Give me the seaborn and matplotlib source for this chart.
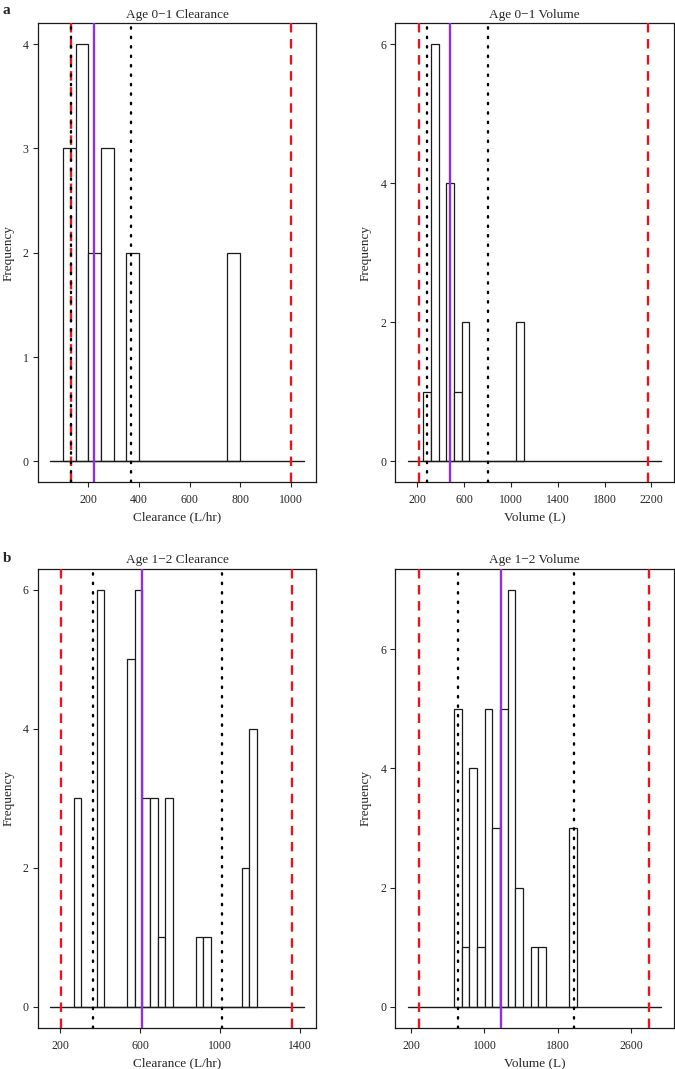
import numpy as np
import pandas as pd
import matplotlib
matplotlib.use("Agg")
import matplotlib.pyplot as plt
import seaborn as sns

# ---------------- data ----------------
# Age 0-1 Clearance
cl01_bin_start = 100
cl01_bin_width = 50
cl01_bin_left = [100, 150, 200, 250, 350, 750]
cl01_counts = [3, 4, 2, 3, 2, 2]
cl01_red = [130, 1000]
cl01_dotted = [130, 370]
cl01_purple = 223
cl01_base = [50, 1050]
cl01_xticks = [200, 400, 600, 800, 1000]
cl01_yticks = [0, 1, 2, 3, 4]

# Age 0-1 Volume
v01_bin_start = 250
v01_bin_width = 66
v01_bin_left = [250, 316, 448, 514, 580, 1042]
v01_counts = [1, 6, 4, 1, 2, 2]
v01_red = [211, 2173]
v01_dotted = [285, 801]
v01_purple = 478
v01_base = [120, 2282]
v01_xticks = [200, 600, 1000, 1400, 1800, 2200]
v01_yticks = [0, 2, 4, 6]

# Age 1-2 Clearance
cl12_bin_start = 266.67
cl12_bin_width = 38.33
cl12_bin_left = [266.67, 381.67, 535.0, 573.33, 611.67, 650.0, 688.33,
                 726.67, 880.0, 918.33, 1110.0, 1148.33]
cl12_counts = [3, 6, 5, 6, 3, 3, 1, 3, 1, 1, 2, 4]
cl12_red = [205, 1362]
cl12_dotted = [363, 1010]
cl12_purple = 608
cl12_base = [150, 1420]
cl12_xticks = [200, 600, 1000, 1400]
cl12_yticks = [0, 2, 4, 6]

# Age 1-2 Volume
v12_bin_start = 670
v12_bin_width = 83.33
v12_bin_left = [670.0, 753.33, 836.67, 920.0, 1003.33, 1086.67, 1170.0,
                1253.33, 1336.67, 1503.33, 1586.67, 1920.0]
v12_counts = [5, 1, 4, 1, 5, 3, 5, 7, 2, 1, 1, 3]
v12_red = [290, 2796]
v12_dotted = [713, 1971]
v12_purple = 1183
v12_base = [167, 2922]
v12_xticks = [200, 1000, 1800, 2600]
v12_yticks = [0, 2, 4, 6]

panels = [
    dict(title="Age 0\u22121 Clearance", xlabel="Clearance (L/hr)",
         start=cl01_bin_start, width=cl01_bin_width, left=cl01_bin_left,
         counts=cl01_counts, red=cl01_red, dotted=cl01_dotted,
         purple=cl01_purple, base=cl01_base, xticks=cl01_xticks,
         yticks=cl01_yticks),
    dict(title="Age 0\u22121 Volume", xlabel="Volume (L)",
         start=v01_bin_start, width=v01_bin_width, left=v01_bin_left,
         counts=v01_counts, red=v01_red, dotted=v01_dotted,
         purple=v01_purple, base=v01_base, xticks=v01_xticks,
         yticks=v01_yticks),
    dict(title="Age 1\u22122 Clearance", xlabel="Clearance (L/hr)",
         start=cl12_bin_start, width=cl12_bin_width, left=cl12_bin_left,
         counts=cl12_counts, red=cl12_red, dotted=cl12_dotted,
         purple=cl12_purple, base=cl12_base, xticks=cl12_xticks,
         yticks=cl12_yticks),
    dict(title="Age 1\u22122 Volume", xlabel="Volume (L)",
         start=v12_bin_start, width=v12_bin_width, left=v12_bin_left,
         counts=v12_counts, red=v12_red, dotted=v12_dotted,
         purple=v12_purple, base=v12_base, xticks=v12_xticks,
         yticks=v12_yticks),
]

# ---------------- style ----------------
sns.set_theme(style="ticks")
plt.rcParams["font.family"] = ["Liberation Serif", "DejaVu Serif"]
plt.rcParams["axes.linewidth"] = 0.9
plt.rcParams["xtick.major.size"] = 3.5
plt.rcParams["ytick.major.size"] = 3.5
plt.rcParams["xtick.major.width"] = 0.8
plt.rcParams["ytick.major.width"] = 0.8
plt.rcParams["xtick.direction"] = "out"
plt.rcParams["ytick.direction"] = "out"

W, H = 675, 1069
fig = plt.figure(figsize=(W / 100, H / 100), dpi=100)

axw = 0.4125
axh = 0.4294
positions = [
    [0.0559, 0.5488, axw, axh],
    [0.5856, 0.5488, axw, axh],
    [0.0559, 0.0386, axw, axh],
    [0.5856, 0.0386, axw, axh],
]

RED = "#e8141e"
PURPLE = "#922ee0"

for p, pos in zip(panels, positions):
    ax = fig.add_axes(pos)
    centers = [l + p["width"] / 2 for l in p["left"]]
    df = pd.DataFrame({"x": centers, "n": p["counts"]})
    last = max(p["left"]) + p["width"]
    sns.histplot(data=df, x="x", weights="n", binwidth=p["width"],
                 binrange=(p["start"], last - p["width"] * 0.01), ax=ax,
                 color="white", alpha=1, edgecolor="#1a1a1a",
                 linewidth=0.9, zorder=2)
    # baseline
    sns.lineplot(x=p["base"], y=[0, 0], ax=ax, color="#1a1a1a",
                 linewidth=1.0, zorder=3)
    for v in p["red"]:
        ax.axvline(v, color=RED, linewidth=1.7, dashes=(4.0, 2.8), zorder=4)
    for v in p["dotted"]:
        ax.axvline(v, color="black", linewidth=1.7, dashes=(0.6, 3.4),
                   dash_capstyle="round", zorder=5)
    ax.axvline(p["purple"], color=PURPLE, linewidth=1.7, zorder=4)

    b0, b1 = p["base"]
    r = b1 - b0
    ax.set_xlim(b0 - 0.05 * r, b1 + 0.05 * r)
    ymax = max(p["counts"])
    ax.set_ylim(-0.05 * ymax, 1.05 * ymax)
    ax.set_xticks(p["xticks"])
    ax.set_yticks(p["yticks"])
    ax.tick_params(axis="x", labelsize=8.5, pad=5)
    ax.tick_params(axis="y", labelsize=8.5, pad=3)
    ax.set_title(p["title"], fontsize=9.5, pad=4)
    ax.set_xlabel(p["xlabel"], fontsize=9.5, labelpad=4)
    ax.set_ylabel("Frequency", fontsize=9.5, labelpad=6)
    for s in ax.spines.values():
        s.set_visible(True)
        s.set_color("#1a1a1a")

fig.text(0.004, 1 - 11 / H, "a", fontsize=11, fontweight="bold",
         va="center", ha="left")
fig.text(0.004, 1 - 558 / H, "b", fontsize=11, fontweight="bold",
         va="center", ha="left")

fig.savefig("out.png", dpi=100)
